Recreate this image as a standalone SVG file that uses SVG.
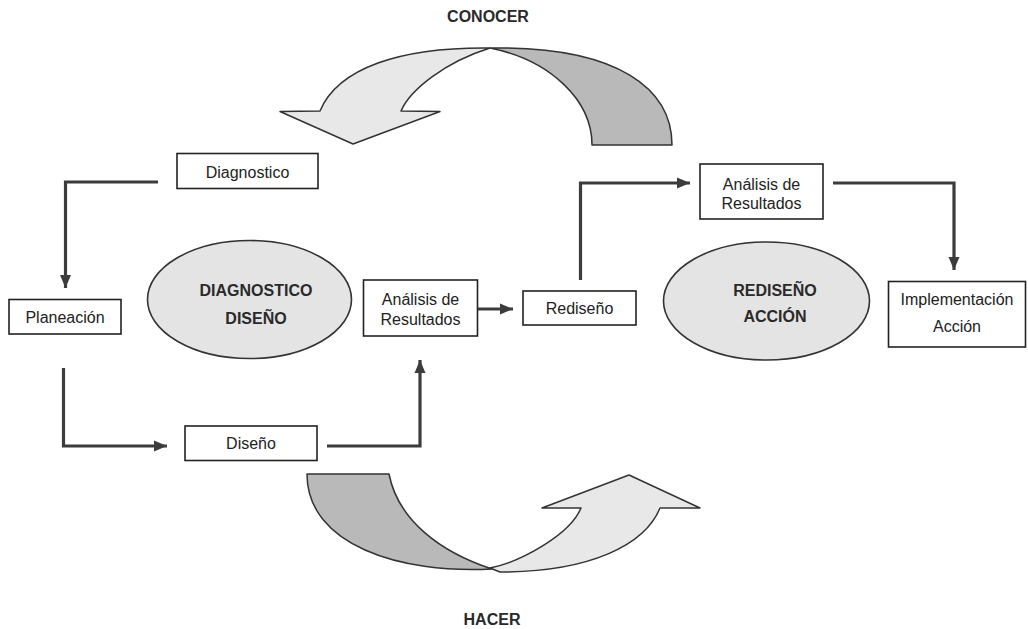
<svg xmlns="http://www.w3.org/2000/svg" width="1028" height="629" viewBox="0 0 1028 629">
<defs>
<style>
.box{fill:#fff;stroke:#222;stroke-width:1.6}
.ell{fill:#e4e4e4;stroke:#333;stroke-width:1.6}
.t{font-family:"Liberation Sans",Arial,sans-serif;font-size:16px;fill:#222;text-anchor:middle}
.b{font-family:"Liberation Sans",Arial,sans-serif;font-size:16px;font-weight:bold;fill:#2a2a2a;text-anchor:middle}
.con{fill:none;stroke:#3c3c3c;stroke-width:3.2;marker-end:url(#ah)}
.light{fill:#e8e8e8;stroke:#333;stroke-width:1.5;stroke-linejoin:round}
.dark{fill:#b9b9b9;stroke:#333;stroke-width:1.5;stroke-linejoin:round}
</style>
<marker id="ah" markerUnits="userSpaceOnUse" markerWidth="14" markerHeight="12" viewBox="0 0 14 12" refX="13" refY="6" orient="auto">
<path d="M0,0.5 L13,6 L0,11.5 Z" fill="#3c3c3c"/>
</marker>
</defs>
<rect width="1028" height="629" fill="#fff"/>

<g id="conocer">
<path class="dark" d="M592,145 C592,100 550,60 490,48 C620,46 672,90 672,145 Z"/>
<path class="light" d="M280,111.5 L320,111 C338,68 400,47 490,48 C445,62 410,90 401,111 L440,111.5 L353,144 Z"/>
<text class="b" x="488" y="22">CONOCER</text>
</g>

<g id="hacer">
<path class="dark" d="M307,474 L389,474 C398,520 440,552 492,569 C400,574 307,545 307,474 Z"/>
<path class="light" d="M490,568 C520,562 570,535 581,508 L542,508 L629,475 L700,508 L660,508 C645,545 590,572 500,572 Z"/>
<text class="b" x="492" y="625">HACER</text>
</g>

<g id="connectors">
<path class="con" d="M158,182 H65.5 V288"/>
<path class="con" d="M63.5,368 V446 H167"/>
<path class="con" d="M327,446 H420 V360"/>
<path class="con" d="M478,309 H513"/>
<path class="con" d="M580.5,280 V183 H690"/>
<path class="con" d="M833,183 H954 V270"/>
</g>

<g id="diagnostico">
<rect class="box" x="177" y="153.5" width="141" height="35"/>
<text class="t" x="247.5" y="177.5">Diagnostico</text>
</g>

<g id="planeacion">
<rect class="box" x="9" y="299.5" width="112" height="34.5"/>
<text class="t" x="65" y="322.5">Planeación</text>
</g>

<g id="ellipse-diagnostico">
<ellipse class="ell" cx="249.5" cy="299.5" rx="102" ry="59"/>
<text class="b" x="256" y="296">DIAGNOSTICO</text>
<text class="b" x="256" y="324">DISEÑO</text>
</g>

<g id="analisis1">
<rect class="box" x="363.5" y="280" width="114" height="56"/>
<text class="t" x="420.5" y="305">Análisis de</text>
<text class="t" x="420.5" y="325">Resultados</text>
</g>

<g id="rediseno">
<rect class="box" x="523" y="291" width="113" height="34"/>
<text class="t" x="579.5" y="313.5">Rediseño</text>
</g>

<g id="diseno">
<rect class="box" x="185" y="426" width="132" height="34.5"/>
<text class="t" x="251" y="449">Diseño</text>
</g>

<g id="analisis2">
<rect class="box" x="700" y="164" width="123" height="55"/>
<text class="t" x="761.5" y="190">Análisis de</text>
<text class="t" x="761.5" y="209">Resultados</text>
</g>

<g id="ellipse-rediseno">
<ellipse class="ell" cx="766.5" cy="301" rx="103" ry="59"/>
<text class="b" x="775" y="295.5">REDISEÑO</text>
<text class="b" x="775" y="322">ACCIÓN</text>
</g>

<g id="implementacion">
<rect class="box" x="888.5" y="281.5" width="137" height="65.5"/>
<text class="t" x="957" y="304.5">Implementación</text>
<text class="t" x="957" y="332">Acción</text>
</g>
</svg>
